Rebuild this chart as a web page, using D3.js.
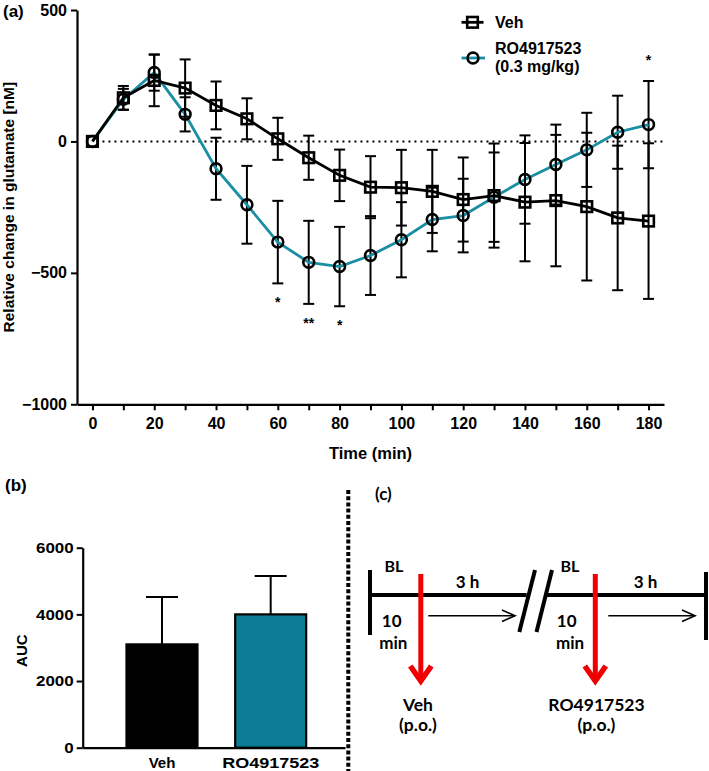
<!DOCTYPE html>
<html><head><meta charset="utf-8">
<script src="https://cdn.jsdelivr.net/npm/d3@7"></script>
<style>
body{margin:0;background:#fff;}
svg{display:block;}
text{font-family:"Liberation Sans",Arial,Helvetica,sans-serif;font-weight:bold;fill:#000;}
.sch text{font-family:Lato,"Open Sans",sans-serif;font-weight:bold;}
</style></head><body>
<svg id="fig" width="709" height="771"></svg>
<script>
// ---------- data ----------
const times   = [0,10,20,30,40,50,60,70,80,90,100,110,120,130,140,150,160,170,180];
const vehMean = [0,166,232,203,137,86,10,-62,-129,-174,-176,-190,-221,-206,-231,-225,-248,-291,-303];
const vehSem  = [0,45,98,109,91,78,80,84,98,118,144,158,160,198,225,250,281,275,296];
const roMean  = [0,160,262,103,-104,-241,-383,-460,-476,-434,-374,-297,-282,-212,-145,-88,-32,35,64];
const roSem   = [0,40,69,65,118,148,157,158,151,150,143,121,140,170,168,152,141,139,166];
const xTickLabels = [0,20,40,60,80,100,120,140,160,180];
const yTicks  = [500,0,-500,-1000];
const sigTimes  = [60,70,80,180];
const sigLabels = ["*","**","*","*"];
const sigSeries = ["ro","ro","ro","ro"];
const sigSide   = ["below","below","below","above"];
const legendLabels = [["Veh"],["RO4917523","(0.3 mg/kg)"]];
const aucGroups = ["Veh","RO4917523"];
const aucMean   = [3100,4000];
const aucSem    = [1420,1150];
const aucTicks  = [0,2000,4000,6000];

const TEAL_LINE = "#1a8ea3";
const TEAL_BAR  = "#0b7d95";

const svg = d3.select("#fig");
const fmt = d3.format("");

// ---------- panel (a) ----------
const x = d3.scaleLinear().domain([-5,185]).range([77,664]);
const y = d3.scaleLinear().domain([-1000,500]).range([404.3,10]);

svg.append("text").attr("x",3).attr("y",17).attr("font-size",17).text("(a)");

// zero reference line
svg.append("line").attr("x1",x(0)+4).attr("x2",x(185)).attr("y1",y(0)).attr("y2",y(0))
  .attr("stroke","#000").attr("stroke-width",2).attr("stroke-dasharray","2,4");

const yAx = svg.append("g").attr("transform","translate("+x(-5)+",0)")
  .call(d3.axisLeft(y).tickValues(yTicks).tickSize(6).tickSizeOuter(0).tickPadding(4).tickFormat(fmt));
const xAx = svg.append("g").attr("transform","translate(0,"+y(-1000)+")")
  .call(d3.axisBottom(x).tickValues(times).tickSize(6).tickSizeOuter(0).tickPadding(7)
        .tickFormat(d => xTickLabels.includes(d) ? fmt(d) : ""));
[yAx,xAx].forEach(g=>{
  g.attr("font-family",null).attr("font-size",null);
  g.select(".domain").attr("stroke-width",2.2);
  g.selectAll(".tick line").attr("stroke-width",2);
  g.selectAll("text").style("font-size","16px").style("font-weight","bold");
});

svg.append("text").attr("transform","translate(14,"+((y(500)+y(-1000))/2)+") rotate(-90)")
  .attr("text-anchor","middle").style("font-size","15.5px").text("Relative change in glutamate [nM]");
svg.append("text").attr("x",(x(0)+x(180))/2).attr("y",459).attr("text-anchor","middle")
  .style("font-size","16.5px").text("Time (min)");

function drawSeries(mean, sem, color, shape){
  const pts = times.map((t,i)=>({t, m:mean[i], s:sem[i]}));
  const g = svg.append("g");
  const eb = g.selectAll("g.eb").data(pts.filter(d=>d.s>0)).join("g");
  eb.append("line").attr("x1",d=>x(d.t)).attr("x2",d=>x(d.t))
    .attr("y1",d=>y(d.m-d.s)).attr("y2",d=>y(d.m+d.s));
  eb.append("line").attr("x1",d=>x(d.t)-5.5).attr("x2",d=>x(d.t)+5.5)
    .attr("y1",d=>y(d.m+d.s)).attr("y2",d=>y(d.m+d.s));
  eb.append("line").attr("x1",d=>x(d.t)-5.5).attr("x2",d=>x(d.t)+5.5)
    .attr("y1",d=>y(d.m-d.s)).attr("y2",d=>y(d.m-d.s));
  eb.selectAll("line").attr("stroke","#000").attr("stroke-width",2);
  g.append("path").datum(pts)
    .attr("d", d3.line().x(d=>x(d.t)).y(d=>y(d.m)))
    .attr("fill","none").attr("stroke",color).attr("stroke-width",2.8);
  if(shape==="square"){
    g.selectAll("rect.m").data(pts).join("rect")
      .attr("x",d=>x(d.t)-5.3).attr("y",d=>y(d.m)-5.3).attr("width",10.6).attr("height",10.6)
      .attr("fill","none").attr("stroke","#000").attr("stroke-width",2.6);
  } else {
    g.selectAll("circle.m").data(pts).join("circle")
      .attr("cx",d=>x(d.t)).attr("cy",d=>y(d.m)).attr("r",5.4)
      .attr("fill","none").attr("stroke","#000").attr("stroke-width",2.6);
  }
}
drawSeries(roMean, roSem, TEAL_LINE, "circle");
drawSeries(vehMean, vehSem, "#000", "square");

// significance marks
sigTimes.forEach((t,i)=>{
  const k = times.indexOf(t);
  const m = sigSeries[i]==="ro" ? roMean[k] : vehMean[k];
  const s = sigSeries[i]==="ro" ? roSem[k] : vehSem[k];
  const cy = sigSide[i]==="below" ? y(m-s)+16.5 : y(m+s)-23;
  svg.append("text").attr("x",x(t)).attr("y",cy+7.5).attr("text-anchor","middle")
    .style("font-size","14px").text(sigLabels[i]);
});

// legend
const lg = svg.append("g");
lg.append("line").attr("x1",461.5).attr("x2",483.5).attr("y1",22.3).attr("y2",22.3)
  .attr("stroke","#000").attr("stroke-width",2.8);
lg.append("rect").attr("x",472.5-5.3).attr("y",22.3-5.3).attr("width",10.6).attr("height",10.6)
  .attr("fill","none").attr("stroke","#000").attr("stroke-width",2.6);
lg.append("text").attr("x",495).attr("y",27.5).style("font-size","16px").text(legendLabels[0][0]);
lg.append("line").attr("x1",461.5).attr("x2",485).attr("y1",58).attr("y2",58)
  .attr("stroke",TEAL_LINE).attr("stroke-width",2.8);
lg.append("circle").attr("cx",473).attr("cy",58).attr("r",5.4)
  .attr("fill","none").attr("stroke","#000").attr("stroke-width",2.6);
lg.append("text").attr("x",495).attr("y",54).style("font-size","16px").text(legendLabels[1][0]);
lg.append("text").attr("x",495).attr("y",71.5).style("font-size","16px").text(legendLabels[1][1]);

// ---------- panel (b) ----------
svg.append("text").attr("x",5).attr("y",491).style("font-size","17px").text("(b)");
const yb = d3.scaleLinear().domain([0,6000]).range([747.7,547.7]);
const xb = d3.scaleBand().domain(aucGroups).range([82.7,345])
  .paddingInner(0.347).paddingOuter(0.38).align(0.53);
const aucData = aucGroups.map((g,i)=>({g, m:aucMean[i], s:aucSem[i]}));

const eb2 = svg.append("g");
eb2.selectAll("line.v").data(aucData).join("line")
  .attr("x1",d=>xb(d.g)+xb.bandwidth()/2).attr("x2",d=>xb(d.g)+xb.bandwidth()/2)
  .attr("y1",d=>yb(d.m)).attr("y2",d=>yb(d.m+d.s));
eb2.selectAll("line.c").data(aucData).join("line")
  .attr("x1",d=>xb(d.g)+xb.bandwidth()/2-16).attr("x2",d=>xb(d.g)+xb.bandwidth()/2+16)
  .attr("y1",d=>yb(d.m+d.s)).attr("y2",d=>yb(d.m+d.s));
eb2.selectAll("line").attr("stroke","#000").attr("stroke-width",2);

svg.append("g").selectAll("rect").data(aucData).join("rect")
  .attr("x",d=>xb(d.g)).attr("width",xb.bandwidth())
  .attr("y",d=>yb(d.m)).attr("height",d=>yb(0)-yb(d.m))
  .attr("fill",(d,i)=>i===0?"#000":TEAL_BAR).attr("stroke","#000").attr("stroke-width",2.2);

const ybAx = svg.append("g").attr("transform","translate(82.7,0)")
  .call(d3.axisLeft(yb).tickValues(aucTicks).tickSize(6).tickSizeOuter(0).tickPadding(3).tickFormat(fmt));
const xbAx = svg.append("g").attr("transform","translate(0,"+yb(0)+")")
  .call(d3.axisBottom(xb).tickSize(0).tickSizeOuter(0).tickPadding(10));
[ybAx,xbAx].forEach(g=>{
  g.attr("font-family",null).attr("font-size",null);
  g.select(".domain").attr("stroke-width",2.2);
  g.selectAll(".tick line").attr("stroke-width",2);
  g.selectAll("text").style("font-size","15px").style("font-weight","bold");
});
function stretch(sel,f){
  sel.each(function(){
    const w=this.getComputedTextLength();
    d3.select(this).attr("textLength",w*f).attr("lengthAdjust","spacingAndGlyphs");
  });
}
stretch(ybAx.selectAll("text"),1.13);
stretch(xbAx.selectAll("text").filter(d=>d==="RO4917523"),1.2);

svg.append("text").attr("transform","translate(27,"+((yb(0)+yb(6000))/2+3)+") rotate(-90)")
  .attr("text-anchor","middle").style("font-size","15px").text("AUC");

// divider
svg.append("line").attr("x1",348.3).attr("x2",348.3).attr("y1",490).attr("y2",771)
  .attr("stroke","#000").attr("stroke-width",4).attr("stroke-dasharray","4,2.2");

// ---------- panel (c) schematic ----------
const sc = svg.append("g").attr("class","sch");
sc.append("text").attr("x",375).attr("y",500).style("font-size","17px").text("(c)");
const lineY = 595;
const segs = [[370,526.7],[546.7,706.7]];
segs.forEach(s=>sc.append("line").attr("x1",s[0]).attr("x2",s[1]).attr("y1",lineY).attr("y2",lineY)
  .attr("stroke","#000").attr("stroke-width",4));
sc.append("line").attr("x1",370).attr("x2",370).attr("y1",570).attr("y2",635).attr("stroke","#000").attr("stroke-width",4);
sc.append("line").attr("x1",706).attr("x2",706).attr("y1",572).attr("y2",640).attr("stroke","#000").attr("stroke-width",4);
[[519.3,535],[536.5,552]].forEach(s=>sc.append("line").attr("x1",s[0]).attr("y1",632).attr("x2",s[1]).attr("y2",570)
  .attr("stroke","#000").attr("stroke-width",4));

const doses = [
  {ax:420.8, bl:394, h:467.5, ten:391.7, min:393.3, arrow:[428.3,515], lab:["Veh","(p.o.)"], labx:418},
  {ax:595.3, bl:570, h:645.5, ten:566.7, min:570, arrow:[608.3,695], lab:["RO4917523","(p.o.)"], labx:596.5}
];
doses.forEach(d=>{
  sc.append("line").attr("x1",d.ax).attr("x2",d.ax).attr("y1",574).attr("y2",680)
    .attr("stroke","#f00000").attr("stroke-width",5);
  sc.append("path").attr("d",`M${d.ax-10.5},666 L${d.ax},681 L${d.ax+10.5},666`)
    .attr("fill","none").attr("stroke","#f00000").attr("stroke-width",5.5).attr("stroke-linejoin","miter");
  sc.append("line").attr("x1",d.arrow[0]).attr("x2",d.arrow[1]).attr("y1",615.7).attr("y2",615.7)
    .attr("stroke","#000").attr("stroke-width",1.6);
  sc.append("path").attr("d",`M${d.arrow[1]-13},610 L${d.arrow[1]},615.7 L${d.arrow[1]-13},621.4`)
    .attr("fill","none").attr("stroke","#000").attr("stroke-width",1.6);
  sc.append("text").attr("x",d.bl).attr("y",571.5).attr("text-anchor","middle").style("font-size","16px").text("BL");
  sc.append("text").attr("x",d.h).attr("y",588).attr("text-anchor","middle").style("font-size","17px").text("3 h");
  sc.append("text").attr("x",d.ten).attr("y",626.5).attr("text-anchor","middle").style("font-size","17px").text("10");
  sc.append("text").attr("x",d.min).attr("y",649).attr("text-anchor","middle").style("font-size","17px").text("min");
  sc.append("text").attr("x",d.labx).attr("y",710.5).attr("text-anchor","middle").style("font-size","17.5px").text(d.lab[0]);
  sc.append("text").attr("x",d.labx).attr("y",731).attr("text-anchor","middle").style("font-size","17.5px").text(d.lab[1]);
});
</script>
</body></html>
